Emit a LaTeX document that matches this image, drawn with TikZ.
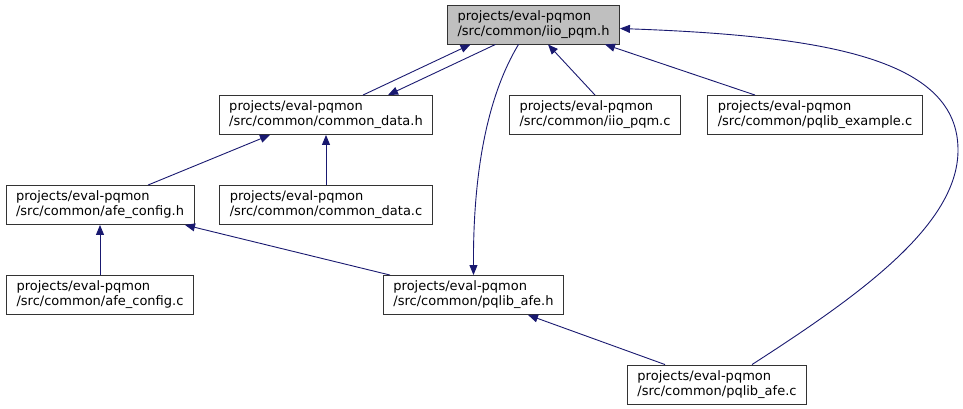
\documentclass[tikz,border=0pt]{standalone}
\usepackage{fontspec}
\setmainfont{DejaVu Sans}
\usepackage{xcolor}
\usetikzlibrary{positioning,arrows.meta,calc}
\definecolor{edgeblue}{RGB}{25,25,112}
\definecolor{boxgray}{RGB}{191,191,191}

\begin{document}
\begin{tikzpicture}[x=1pt,y=-1pt,
        file/.style={rectangle, draw=black!80, fill=white, line width=0.9pt,
                    inner xsep=10pt, inner ysep=3pt, minimum height=39pt,
                    font=\fontsize{13}{15}\selectfont, align=left},
        arr/.style={-{Triangle[length=10pt,width=8pt]}, line width=0.9pt, edgeblue}
      ]
        \useasboundingbox (0,0) rectangle (963,409);
        \node[file, fill=boxgray] (iioh) at (533.5,24.5)
              {projects/eval-pqmon\\/src/common/iio\_pqm.h};
        \node[file] (cdh) at (326,115)
              {projects/eval-pqmon\\/src/common/common\_data.h};
        \node[file] (iioc) at (595,115)
              {projects/eval-pqmon\\/src/common/iio\_pqm.c};
        \node[file] (pqex) at (815,115)
              {projects/eval-pqmon\\/src/common/pqlib\_example.c};
        \node[file] (afeh) at (100,205)
              {projects/eval-pqmon\\/src/common/afe\_config.h};
        \node[file, below=50pt of cdh] (cdc)
              {projects/eval-pqmon\\/src/common/common\_data.c};
        \node[file, below=50pt of afeh] (afec)
              {projects/eval-pqmon\\/src/common/afe\_config.c};
        \node[file] (pah) at (473.5,295)
              {projects/eval-pqmon\\/src/common/pqlib\_afe.h};
        \node[file] (pac) at (717,384.5)
              {projects/eval-pqmon\\/src/common/pqlib\_afe.c};
        % includes
        \draw[arr] ($(cdh.north)+(37,0)$) -- ($(iioh.south)+(-63,0)$);
        \draw[arr] ($(iioh.south)+(-38,0)$) -- ($(cdh.north)+(62,0)$);
        \draw[arr] ($(iioh.south)+(-15,0)$) .. controls (488,95) and (473,170) .. (pah.north);
        \draw[arr] (iioc.north) -- ($(iioh.south)+(14.5,0)$);
        \draw[arr] ($(pqex.north)+(-60,0)$) -- ($(iioh.south)+(71.5,0)$);
        \draw[arr] ($(pac.north)+(35,0)$) .. controls (860,295) and (958,225) .. (958,150)
              .. controls (958,60) and (830,36) .. ($(iioh.east)+(0,4)$);
        \draw[arr] ($(afeh.north)+(48,0)$) -- ($(cdh.south)+(-56,0)$);
        \draw[arr] (cdc.north) -- (cdh.south);
        \draw[arr] (afec.north) -- (afeh.south);
        \draw[arr] ($(pah.north)+(-83.5,0)$) -- ($(afeh.south)+(85,0)$);
        \draw[arr] ($(pac.north)+(-52,0)$) -- ($(pah.south)+(54.5,0)$);
      \end{tikzpicture}
\end{document}
